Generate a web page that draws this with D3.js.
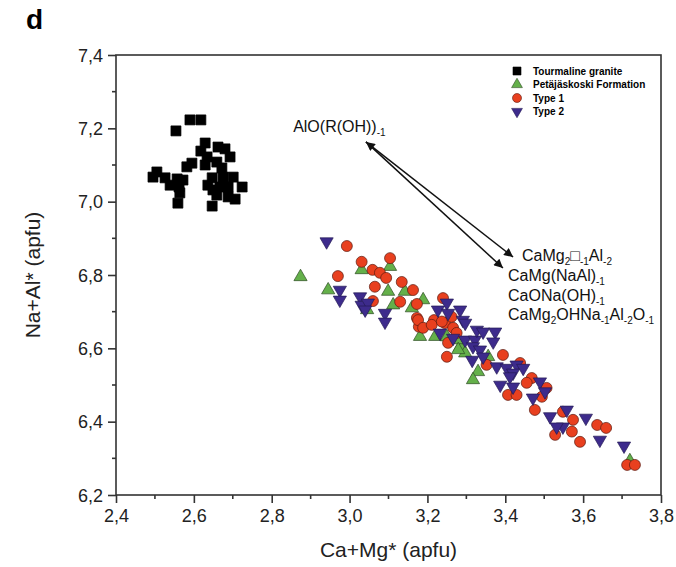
<!DOCTYPE html>
<html>
<head>
<meta charset="utf-8">
<script src="https://cdn.jsdelivr.net/npm/d3@7"></script>
<style>
  body { margin: 0; background: #fff; }
  svg { font-family: Arial, "Liberation Sans", sans-serif; }
</style>
</head>
<body>
<div id="chart"></div>
<script>
// series values: [Ca+Mg*, Na+Al*]
var tourmaline = [
  [2.590,7.223],[2.618,7.223],[2.554,7.193],[2.629,7.160],[2.662,7.149],[2.680,7.144],
  [2.618,7.138],[2.693,7.122],[2.634,7.122],[2.595,7.105],[2.582,7.095],[2.659,7.108],
  [2.672,7.092],[2.505,7.081],[2.495,7.067],[2.526,7.065],[2.557,7.062],[2.572,7.059],
  [2.647,7.065],[2.675,7.067],[2.701,7.067],[2.539,7.045],[2.562,7.040],[2.636,7.045],
  [2.667,7.040],[2.688,7.040],[2.724,7.040],[2.564,7.024],[2.659,7.018],[2.688,7.013],
  [2.706,7.007],[2.559,6.996],[2.647,6.988],[2.629,7.100],[2.649,7.032]
];
var petajaskoski = [
  [2.874,6.795],[2.945,6.759],[3.031,6.814],[3.104,6.823],[3.099,6.755],[3.142,6.755],
  [3.189,6.732],[3.045,6.705],[3.112,6.718],[3.160,6.710],[3.181,6.632],[3.220,6.632],
  [3.250,6.631],[3.284,6.604],[3.297,6.587],[3.275,6.623],[3.279,6.596],[3.356,6.577],
  [3.330,6.536],[3.317,6.514],[3.720,6.293]
];
var type1 = [
  [2.993,6.879],[3.031,6.836],[3.104,6.846],[2.970,6.797],[3.059,6.814],[3.078,6.806],
  [3.094,6.792],[3.065,6.768],[3.134,6.781],[3.163,6.759],[3.060,6.729],[3.130,6.727],
  [3.173,6.721],[3.173,6.683],[3.178,6.659],[3.217,6.677],[3.240,6.737],[3.245,6.669],
  [3.262,6.686],[3.266,6.656],[3.250,6.577],[3.176,6.677],[3.189,6.656],[3.211,6.664],
  [3.237,6.673],[3.275,6.642],[3.253,6.615],[3.394,6.582],[3.352,6.555],[3.438,6.560],
  [3.468,6.519],[3.455,6.506],[3.506,6.492],[3.494,6.468],[3.407,6.473],[3.429,6.473],
  [3.476,6.432],[3.548,6.427],[3.574,6.405],[3.571,6.373],[3.528,6.364],[3.592,6.345],
  [3.636,6.391],[3.659,6.383],[3.713,6.282],[3.733,6.282]
];
var type2 = [
  [2.941,6.891],[2.975,6.759],[2.975,6.732],[3.027,6.741],[3.031,6.718],[3.047,6.724],
  [3.040,6.705],[3.091,6.696],[3.091,6.672],[3.227,6.705],[3.250,6.724],[3.253,6.696],
  [3.284,6.705],[3.291,6.677],[3.266,6.628],[3.297,6.623],[3.322,6.623],[3.315,6.568],
  [3.297,6.669],[3.232,6.642],[3.327,6.650],[3.343,6.645],[3.374,6.645],[3.369,6.618],
  [3.317,6.605],[3.335,6.596],[3.343,6.577],[3.378,6.550],[3.404,6.546],[3.429,6.555],
  [3.446,6.546],[3.420,6.533],[3.412,6.523],[3.387,6.500],[3.420,6.495],[3.489,6.509],
  [3.502,6.482],[3.471,6.465],[3.515,6.414],[3.558,6.432],[3.548,6.386],[3.532,6.386],
  [3.607,6.410],[3.643,6.350],[3.705,6.334]
];

var xTicks = [2.4, 2.6, 2.8, 3.0, 3.2, 3.4, 3.6, 3.8];
var yTicks = [6.2, 6.4, 6.6, 6.8, 7.0, 7.2, 7.4];
var legendNames = ["Tourmaline granite", "Petäjäskoski Formation", "Type 1", "Type 2"];

// exchange vectors (double arrow) and their labels
var arrowStart = [3.042, 7.163];
var arrowEnds = [[3.420, 6.849], [3.394, 6.819]];

var width = 676, height = 567;
var margin = {top: 55, right: 15, bottom: 72, left: 116};

var svg = d3.select("#chart").append("svg")
  .attr("width", width)
  .attr("height", height);

var x = d3.scaleLinear().domain([2.4, 3.8]).range([margin.left, width - margin.right]);
var y = d3.scaleLinear().domain([6.2, 7.4]).range([height - margin.bottom, margin.top]);

var defs = svg.append("defs");
defs.append("marker")
  .attr("id", "head")
  .attr("viewBox", "0 0 10 10")
  .attr("refX", 10).attr("refY", 5)
  .attr("markerWidth", 12).attr("markerHeight", 9)
  .attr("markerUnits", "userSpaceOnUse")
  .attr("orient", "auto-start-reverse")
  .append("path").attr("d", "M0,0 L10,5 L0,10 Z").attr("fill", "#111");

// frame
svg.append("rect")
  .attr("x", x(2.4)).attr("y", y(7.4))
  .attr("width", x(3.8) - x(2.4)).attr("height", y(6.2) - y(7.4))
  .attr("fill", "none").attr("stroke", "#333").attr("stroke-width", 1.6);

// axes
var xAxis = svg.append("g")
  .attr("transform", "translate(0," + y(6.2) + ")")
  .call(d3.axisBottom(x).tickValues(xTicks).tickSize(8).tickFormat(d3.format(".1f")));
var yAxis = svg.append("g")
  .attr("transform", "translate(" + x(2.4) + ",0)")
  .call(d3.axisLeft(y).tickValues(yTicks).tickSize(8).tickFormat(d3.format(".1f")));

[xAxis, yAxis].forEach(function(g) {
  g.select(".domain").remove();
  g.selectAll("line").attr("stroke", "#333").attr("stroke-width", 1.6);
  g.selectAll("text")
    .attr("fill", "#222")
    .style("font-size", "18px")
    .text(function(d) { return d3.format(".1f")(d).replace(".", ","); });
});
xAxis.selectAll("text").attr("dy", "0.95em").attr("y", 10);
yAxis.selectAll("text").attr("x", -13).attr("dy", "0.35em");

// minor ticks
var xMinor = d3.range(2.5, 3.8, 0.2);
var yMinor = d3.range(6.3, 7.4, 0.2);
svg.append("g").selectAll("line").data(xMinor).enter().append("line")
  .attr("x1", function(d) { return x(d); }).attr("x2", function(d) { return x(d); })
  .attr("y1", y(6.2)).attr("y2", y(6.2) + 4)
  .attr("stroke", "#333").attr("stroke-width", 1.6);
svg.append("g").selectAll("line").data(yMinor).enter().append("line")
  .attr("y1", function(d) { return y(d); }).attr("y2", function(d) { return y(d); })
  .attr("x1", x(2.4)).attr("x2", x(2.4) - 4)
  .attr("stroke", "#333").attr("stroke-width", 1.6);

// axis titles
svg.append("text")
  .attr("x", (x(2.4) + x(3.8)) / 2).attr("y", 557)
  .attr("text-anchor", "middle")
  .style("font-size", "21px").attr("fill", "#222")
  .text("Ca+Mg* (apfu)");
svg.append("text")
  .attr("transform", "translate(40," + (y(6.8)) + ")rotate(-90)")
  .attr("text-anchor", "middle")
  .style("font-size", "21px").attr("fill", "#222")
  .text("Na+Al* (apfu)");

svg.append("text")
  .attr("x", 26).attr("y", 29)
  .style("font-size", "28px").style("font-weight", "bold")
  .text("d");

// marker shapes
function tri(s, down) {
  var h = s * Math.sqrt(3) / 2;
  var k = down ? -1 : 1;
  return "M0," + (-k * h * 2 / 3) + "L" + (s / 2) + "," + (k * h / 3) + "L" + (-s / 2) + "," + (k * h / 3) + "Z";
}
var shapes = {
  square: function(s) { return "M" + (-s / 2) + "," + (-s / 2) + "h" + s + "v" + s + "h" + (-s) + "Z"; },
  up: function(s) { return tri(s * 1.2, false); },
  circle: function(s) { var r = s / 2; return "M" + r + ",0A" + r + "," + r + " 0 1,1 " + (-r) + ",0A" + r + "," + r + " 0 1,1 " + r + ",0Z"; },
  down: function(s) { return tri(s * 1.2, true); }
};

var series = [
  {data: tourmaline, shape: "square", fill: "#000", stroke: "#000", size: 10},
  {data: petajaskoski, shape: "up", fill: "#64b04a", stroke: "#2c4a22", size: 11},
  {data: type1, shape: "circle", fill: "#e8401f", stroke: "#5a1a10", size: 11},
  {data: type2, shape: "down", fill: "#3d2b8c", stroke: "#241a55", size: 11}
];

var plot = svg.append("g");
series.forEach(function(s) {
  plot.append("g").selectAll("path").data(s.data).enter().append("path")
    .attr("transform", function(d) { return "translate(" + x(d[0]) + "," + y(d[1]) + ")"; })
    .attr("d", shapes[s.shape](s.size))
    .attr("fill", s.fill).attr("stroke", s.stroke).attr("stroke-width", 0.7);
});

// legend
var legend = svg.append("g").attr("transform", "translate(517,71)");
legendNames.forEach(function(name, i) {
  var s = series[i];
  legend.append("path")
    .attr("transform", "translate(0," + (i * 13.5) + ")")
    .attr("d", shapes[s.shape](s.shape === "square" ? 8 : 9))
    .attr("fill", s.fill).attr("stroke", s.stroke).attr("stroke-width", 0.6);
  legend.append("text")
    .attr("x", 16).attr("y", i * 13.5).attr("dy", "0.35em")
    .style("font-size", "10px").style("font-weight", "bold")
    .text(name);
});

// arrows
arrowEnds.forEach(function(e, i) {
  svg.append("line")
    .attr("x1", x(arrowStart[0])).attr("y1", y(arrowStart[1]))
    .attr("x2", x(e[0])).attr("y2", y(e[1]))
    .attr("stroke", "#111").attr("stroke-width", 1.5)
    .attr("marker-end", "url(#head)")
    .attr("marker-start", i === 0 ? "url(#head)" : null);
});

// formula labels: arrays of [text, isSub]
function formula(px, py, parts) {
  var t = svg.append("text").attr("x", x(px)).attr("y", y(py))
    .style("font-size", "16px").attr("fill", "#111");
  parts.forEach(function(p) {
    var ts = t.append("tspan").text(p[0]);
    if (p[1]) ts.style("font-size", "10px").attr("dy", 4);
    else ts.attr("dy", 0);
  });
  // reset baseline after subscripts
  t.selectAll("tspan").each(function(p, i, nodes) {
    var prev = i > 0 ? parts[i - 1][1] : false;
    if (!p[1] && prev) d3.select(this).attr("dy", -4);
  });
  t.selectAll("tspan").data(parts);
  return t;
}
function label(px, py, parts) {
  var t = svg.append("text").attr("x", x(px)).attr("y", y(py))
    .style("font-size", "16px").attr("fill", "#111");
  var sub = false;
  parts.forEach(function(p) {
    var ts = t.append("tspan").text(p[0]);
    if (p[1] && !sub) ts.attr("dy", 4);
    if (!p[1] && sub) ts.attr("dy", -4);
    if (p[1]) ts.style("font-size", "10px");
    sub = p[1];
  });
}
label(2.855, 7.190, [["AlO(R(OH))", false], ["-1", true]]);
label(3.443, 6.838, [["CaMg", false], ["2", true], ["\u25A1", false], ["-1", true], ["Al", false], ["-2", true]]);
label(3.407, 6.783, [["CaMg(NaAl)", false], ["-1", true]]);
label(3.407, 6.729, [["CaONa(OH)", false], ["-1", true]]);
label(3.407, 6.677, [["CaMg", false], ["2", true], ["OHNa", false], ["-1", true], ["Al", false], ["-2", true], ["O", false], ["-1", true]]);
</script>
</body>
</html>
